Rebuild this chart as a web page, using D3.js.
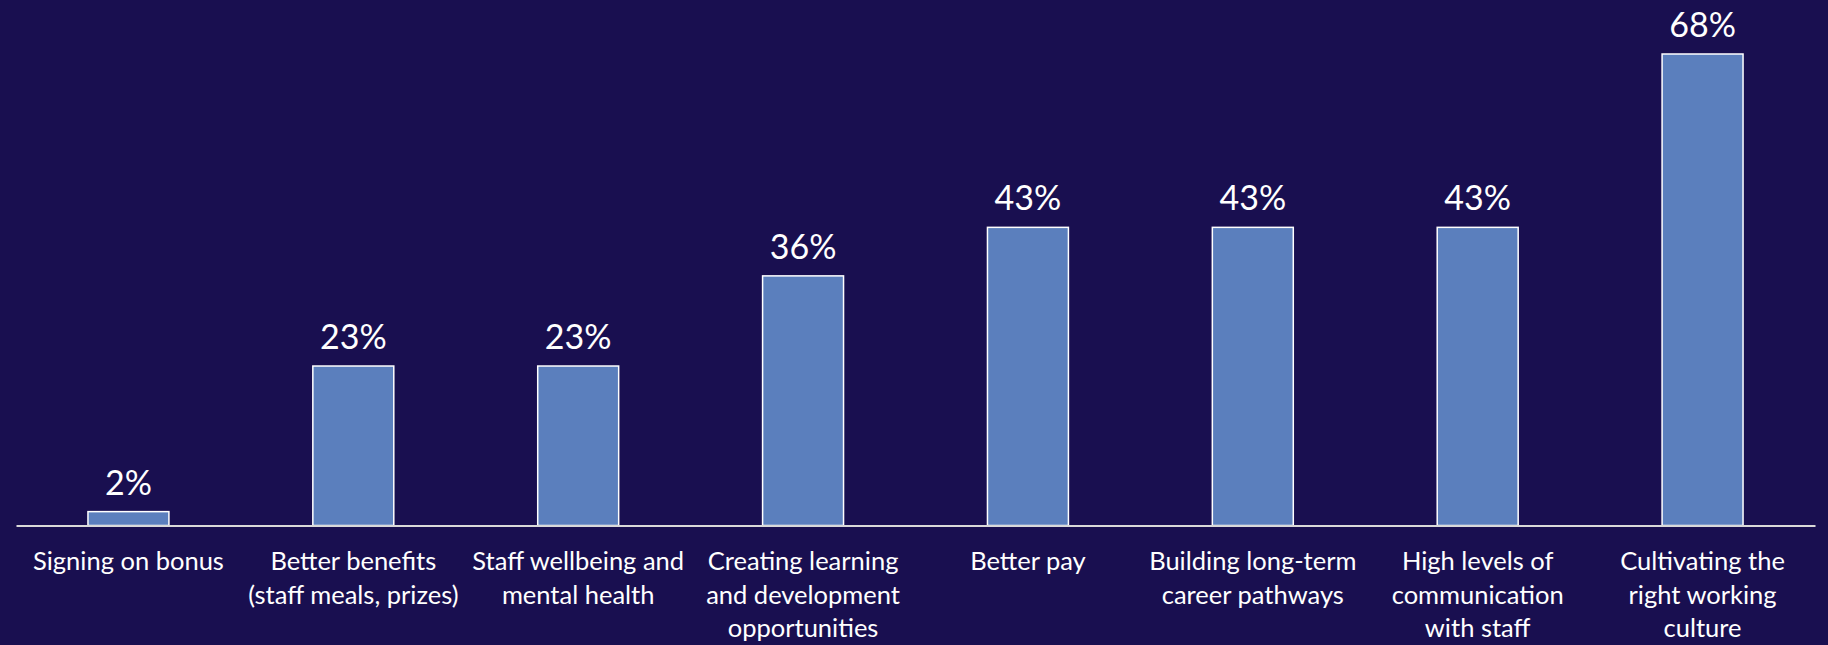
<!DOCTYPE html>
<html>
<head>
<meta charset="utf-8">
<script src="https://cdn.jsdelivr.net/npm/d3@7"></script>
<style>
  html, body { margin: 0; padding: 0; background: #190f50; }
  svg { display: block; }
</style>
</head>
<body>
<svg id="chart" width="1828" height="645"></svg>
<script>
// Share of respondents choosing each retention measure (%)
const categories = [
  "Signing on bonus",
  "Better benefits (staff meals, prizes)",
  "Staff wellbeing and mental health",
  "Creating learning and development opportunities",
  "Better pay",
  "Building long-term career pathways",
  "High levels of communication with staff",
  "Cultivating the right working culture"
];
const categoryLines = [
  ["Signing on bonus"],
  ["Better benefits", "(staff meals, prizes)"],
  ["Staff wellbeing and", "mental health"],
  ["Creating learning", "and development", "opportunities"],
  ["Better pay"],
  ["Building long-term", "career pathways"],
  ["High levels of", "communication", "with staff"],
  ["Cultivating the", "right working", "culture"]
];
const values = [2, 23, 23, 36, 43, 43, 43, 68];

const width = 1828, height = 645;
const left = 16, right = 1815, baseY = 525.5, topY = 54;

const svg = d3.select("#chart");
svg.append("rect").attr("width", width).attr("height", height).attr("fill", "#190f50");

const x = d3.scaleBand()
  .domain(categories)
  .range([left, right])
  .paddingInner(0.64)
  .paddingOuter(0.32);

const y = d3.scaleLinear()
  .domain([0, 68])
  .range([baseY, topY]);

const data = categories.map((c, i) => ({ c, v: values[i], lines: categoryLines[i] }));

// bars
svg.append("g").selectAll("rect")
  .data(data)
  .join("rect")
  .attr("x", d => x(d.c))
  .attr("y", d => y(d.v))
  .attr("width", x.bandwidth())
  .attr("height", d => y(0) - y(d.v))
  .attr("fill", "#5b7fbd")
  .attr("stroke", "#ffffff")
  .attr("stroke-width", 1.5);

// baseline axis
const axis = d3.axisBottom(x).tickSize(0).tickFormat("");
const gAxis = svg.append("g").attr("transform", `translate(0,${baseY})`).call(axis);
gAxis.select(".domain").attr("stroke", "#d9d9d9").attr("stroke-width", 2);

// value labels
svg.append("g").selectAll("text")
  .data(data)
  .join("text")
  .attr("x", d => x(d.c) + x.bandwidth() / 2)
  .attr("y", d => y(d.v) - 17)
  .attr("text-anchor", "middle")
  .attr("fill", "#ffffff")
  .attr("font-family", "Lato, 'Open Sans', sans-serif")
  .attr("font-size", 34)
  .text(d => d.v + "%");

// category labels
const cat = svg.append("g").selectAll("text")
  .data(data)
  .join("text")
  .attr("x", d => x(d.c) + x.bandwidth() / 2)
  .attr("y", 570)
  .attr("text-anchor", "middle")
  .attr("fill", "#ffffff")
  .attr("font-family", "Lato, 'Open Sans', sans-serif")
  .attr("font-size", 25.5);

cat.selectAll("tspan")
  .data(d => d.lines.map(l => ({ l, cx: x(d.c) + x.bandwidth() / 2 })))
  .join("tspan")
  .attr("x", t => t.cx)
  .attr("dy", (t, i) => i === 0 ? 0 : 33.5)
  .text(t => t.l);
</script>
</body>
</html>
